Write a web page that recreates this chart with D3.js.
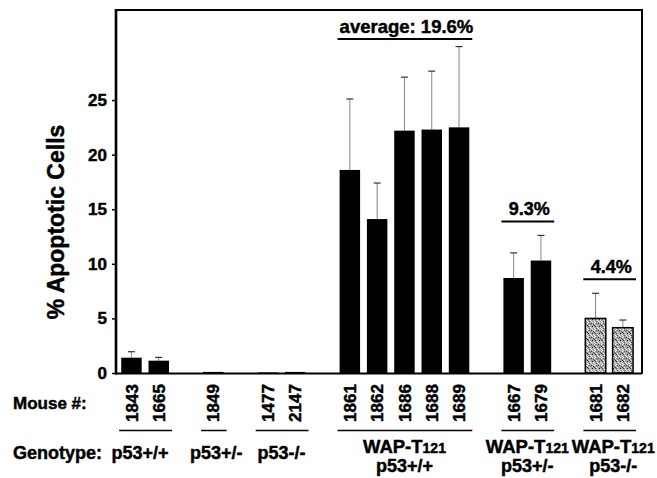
<!DOCTYPE html>
<html>
<head>
<meta charset="utf-8">
<script src="https://cdn.jsdelivr.net/npm/d3@7/dist/d3.min.js"></script>
<style>
  html, body { margin: 0; padding: 0; background: #fff; }
  svg { display: block; }
  text { font-family: "Liberation Sans", Arial, Helvetica, sans-serif; font-weight: bold; fill: #000; stroke: #000; stroke-width: 0.45px; }
</style>
</head>
<body>
<svg id="chart" width="657" height="478"></svg>
<script>
// ---- data ----
const mice = ["1843","1665","1849","1477","2147","1861","1862","1686","1688","1689","1667","1679","1681","1682"];
const values = [1.4, 1.13, 0.1, 0.05, 0.1, 18.6, 14.1, 22.2, 22.3, 22.5, 8.7, 10.3, 5.0, 4.15];
const errors = [0.55, 0.3, 0, 0, 0, 6.5, 3.3, 4.9, 5.35, 7.4, 2.3, 2.3, 2.3, 0.7];
const mouseGroup = [0,0,1,2,2,3,3,3,3,3,4,4,5,5];
const genotypeLine1 = ["p53+/+", "p53+/-", "p53-/-", "WAP-T", "WAP-T", "WAP-T"];
const genotypeSub = ["", "", "", "121", "121", "121"];
const genotypeLine2 = ["", "", "", "p53+/+", "p53+/-", "p53-/-"];
const groupAverages = ["", "", "", "average: 19.6%", "9.3%", "4.4%"];
const stippledGroups = [5];
const yTicks = [0, 5, 10, 15, 20, 25];

// ---- layout ----
const svg = d3.select("#chart");
const plot = { left: 115, right: 642, top: 10, bottom: 373 };

// slots: bars with an empty slot between groups
const slots = [];
mice.forEach((m, i) => {
  if (i > 0 && mouseGroup[i] !== mouseGroup[i - 1]) slots.push("gap" + i);
  slots.push(m);
});

const x = d3.scaleBand().domain(slots).range([117.8, 636.5]).paddingInner(0.25).paddingOuter(0.125);
const y = d3.scaleLinear().domain([0, 33.25]).range([plot.bottom, plot.top]);

// stipple pattern
const defs = svg.append("defs");
const pat = defs.append("pattern").attr("id", "stip").attr("patternUnits", "userSpaceOnUse")
  .attr("width", 7).attr("height", 7);
pat.append("rect").attr("width", 7).attr("height", 7).attr("fill", "#a8a8a8");
[[0,0,"#fff"],[3,1,"#333"],[1,3,"#eee"],[4,4,"#222"],[2,5,"#fff"],[5,2,"#555"],[0,4,"#444"],[4,0,"#ddd"],
 [2,2,"#888"],[6,6,"#fff"],[6,3,"#333"],[1,6,"#555"],[5,5,"#ddd"],[3,6,"#eee"],[6,1,"#fff"],[1,1,"#666"]]
  .forEach(([a,b,c]) => pat.append("rect").attr("x", a).attr("y", b).attr("width", 1).attr("height", 1).attr("fill", c));

// bars
const data = mice.map((m, i) => ({ m, v: values[i], e: errors[i], g: mouseGroup[i] }));

// error bars (drawn first, behind bars)
const eb = svg.append("g");
data.filter(d => d.e > 0).forEach(d => {
  const cx = x(d.m) + x.bandwidth() / 2;
  eb.append("line").attr("x1", cx).attr("x2", cx).attr("y1", y(d.v)).attr("y2", y(d.v + d.e))
    .attr("stroke", "#888").attr("stroke-width", 1);
  eb.append("line").attr("x1", cx - 3.5).attr("x2", cx + 3.5).attr("y1", y(d.v + d.e)).attr("y2", y(d.v + d.e))
    .attr("stroke", "#333").attr("stroke-width", 1.2);
});

svg.append("g").selectAll("rect").data(data).join("rect")
  .attr("x", d => x(d.m))
  .attr("width", x.bandwidth())
  .attr("y", d => y(d.v))
  .attr("height", d => y(0) - y(d.v))
  .attr("fill", d => stippledGroups.includes(d.g) ? "url(#stip)" : "#000")
  .attr("stroke", d => stippledGroups.includes(d.g) ? "#000" : "none")
  .attr("stroke-width", 1.5);

// frame
svg.append("line").attr("x1", plot.left).attr("x2", plot.right).attr("y1", plot.top).attr("y2", plot.top)
  .attr("stroke", "#000").attr("stroke-width", 2);
svg.append("line").attr("x1", plot.right).attr("x2", plot.right).attr("y1", plot.top - 1).attr("y2", plot.bottom + 1)
  .attr("stroke", "#000").attr("stroke-width", 2);
svg.append("line").attr("x1", plot.left).attr("x2", plot.right).attr("y1", plot.bottom + 0.5).attr("y2", plot.bottom + 0.5)
  .attr("stroke", "#000").attr("stroke-width", 2);

// y axis
const yAxis = svg.append("g").attr("transform", `translate(${plot.left + 1},0)`)
  .call(d3.axisLeft(y).tickValues(yTicks).tickSize(4).tickPadding(5).tickFormat(d3.format("d")));
yAxis.select(".domain").remove();
yAxis.selectAll(".tick line").attr("stroke", "#000").attr("stroke-width", 1.5);
yAxis.selectAll(".tick text").attr("fill", "#000").style("font-size", "17px")
  .style("font-family", "Liberation Sans, Arial, sans-serif").style("font-weight", "bold");
svg.append("line").attr("x1", plot.left + 1).attr("x2", plot.left + 1).attr("y1", plot.top - 1).attr("y2", plot.bottom + 1.5)
  .attr("stroke", "#000").attr("stroke-width", 2.6);

// y label
svg.append("text").attr("transform", "translate(64,222) rotate(-90)")
  .attr("text-anchor", "middle").style("font-size", "23px").text("% Apoptotic Cells");

// mouse numbers
svg.append("text").attr("x", 13).attr("y", 409).style("font-size", "17px").text("Mouse #:");
svg.append("g").selectAll("text").data(data).join("text")
  .attr("transform", d => `translate(${x(d.m) + x.bandwidth() / 2},403) rotate(-90)`)
  .attr("text-anchor", "middle").attr("dy", "0.36em")
  .style("font-size", "17px").text(d => d.m);

// group underlines and genotype labels
svg.append("text").attr("x", 13).attr("y", 459).style("font-size", "18px").text("Genotype:");
const labelShift = [-5, 3, 0, 0, 0, 4];
genotypeLine1.forEach((lab, gi) => {
  const members = data.filter(d => d.g === gi);
  const x0 = x(members[0].m) - 2;
  const x1 = x(members[members.length - 1].m) + x.bandwidth() + 3;
  const cx = (x(members[0].m) + x(members[members.length - 1].m) + x.bandwidth()) / 2;
  svg.append("line").attr("x1", x0).attr("x2", x1).attr("y1", 430.5).attr("y2", 430.5)
    .attr("stroke", "#000").attr("stroke-width", 1.5);
  const lx = cx + labelShift[gi];
  if (genotypeSub[gi]) {
    const t = svg.append("text").attr("x", lx).attr("y", 453).attr("text-anchor", "middle").style("font-size", "18.5px");
    t.append("tspan").text(lab);
    t.append("tspan").style("font-size", "14px").text(genotypeSub[gi]);
    svg.append("text").attr("x", lx).attr("y", 472).attr("text-anchor", "middle").style("font-size", "18px").text(genotypeLine2[gi]);
  } else {
    svg.append("text").attr("x", lx).attr("y", 459).attr("text-anchor", "middle").style("font-size", "18px").text(lab);
  }
  if (groupAverages[gi]) {
    const top = d3.max(members, d => d.v + d.e);
    let ty = y(top) - 14;
    if (gi === 3) ty = 39;
    svg.append("text").attr("x", cx + 2).attr("y", ty - 6).attr("text-anchor", "middle")
      .style("font-size", gi === 3 ? "18.5px" : "18px").text(groupAverages[gi]);
    svg.append("line").attr("x1", x0).attr("x2", x1).attr("y1", ty).attr("y2", ty)
      .attr("stroke", "#000").attr("stroke-width", 2);
  }
});
</script>
</body>
</html>
